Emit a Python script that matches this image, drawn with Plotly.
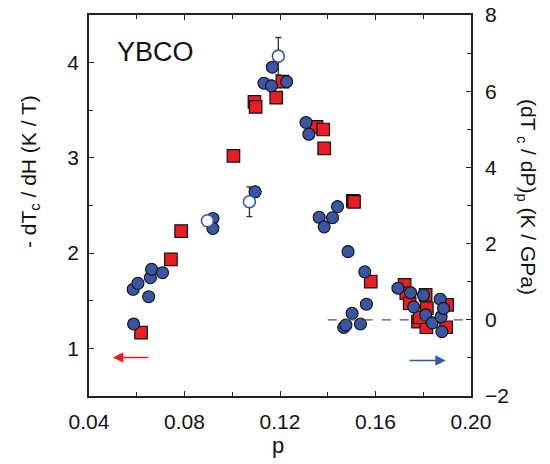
import plotly.graph_objects as go

# Red squares: -dTc/dH (left axis)
sq_p = [0.0618, 0.0743, 0.0786, 0.1005, 0.1093, 0.1098, 0.1184, 0.1210, 0.1353, 0.1381,
        0.1385, 0.1505, 0.1510, 0.1580, 0.1722, 0.1729, 0.1743, 0.1810, 0.1815, 0.1778,
        0.1813, 0.1900, 0.1896, 0.1785]
sq_dtdh = [1.166, 1.935, 2.232, 3.021, 3.587, 3.535, 3.633, 3.800, 3.325, 3.298,
           3.099, 2.550, 2.539, 1.700, 1.666, 1.579, 1.474, 1.561, 1.421, 1.281,
           1.222, 1.456, 1.222, 1.327]

# Blue filled circles: (dTc/dP)p (right axis)
ci_p = [0.0587, 0.0585, 0.0605, 0.0650, 0.0657, 0.0662, 0.0708, 0.0919, 0.0919, 0.1096,
        0.1133, 0.1164, 0.1168, 0.1228, 0.1309, 0.1321, 0.1364, 0.1385, 0.1420, 0.1441,
        0.1485, 0.1555, 0.1562, 0.1502, 0.1467, 0.1476, 0.1537, 0.1694, 0.1747, 0.1801,
        0.1760, 0.1810, 0.1838, 0.1875, 0.1871, 0.1885, 0.1878]
ci_dtdp = [-0.11, 0.80, 0.958, 0.606, 1.105, 1.325, 1.236, 2.66, 2.40, 3.36,
           6.21, 6.14, 6.63, 6.25, 5.18, 4.87, 2.69, 2.44, 2.68, 2.97,
           1.79, 1.26, 0.41, 0.17, -0.20, -0.14, -0.11, 0.83, 0.71, 0.65,
           0.34, 0.13, -0.08, 0.08, 0.54, 0.30, -0.31]

# Blue open circles with error bars (right axis)
op_p = [0.0896, 0.1072, 0.1193]
op_dtdp = [2.60, 3.10, 6.92]
op_err = [0.0, 0.39, 0.49]

x_ticks = [0.04, 0.08, 0.12, 0.16, 0.20]
x_ticktext = ["0.04", "0.08", "0.12", "0.16", "0.20"]
y_ticks = [1, 2, 3, 4]
y2_ticks = [-2, 0, 2, 4, 6, 8]

BLUE = "#3a55a4"
RED = "#ec1c24"
FONT = "Liberation Sans, Arial, sans-serif"
AX = "#222222"

fig = go.Figure()

fig.add_trace(go.Scatter(
    x=sq_p, y=sq_dtdh, mode="markers", yaxis="y",
    marker=dict(symbol="square", size=12.5, color=RED, line=dict(color="#111111", width=1.2)),
    showlegend=False))

fig.add_trace(go.Scatter(
    x=ci_p, y=ci_dtdp, mode="markers", yaxis="y2",
    marker=dict(symbol="circle", size=12, color=BLUE, line=dict(color="#111111", width=1.1)),
    showlegend=False))

fig.add_trace(go.Scatter(
    x=op_p, y=op_dtdp, mode="markers", yaxis="y2",
    error_y=dict(type="data", array=op_err, visible=True, color="#333333", thickness=1.3, width=3),
    marker=dict(symbol="circle", size=12, color="white", line=dict(color=BLUE, width=1.6)),
    showlegend=False))

# dashed zero line on right axis
fig.add_shape(type="line", xref="x", yref="y2", x0=0.14, x1=0.20, y0=0, y1=0,
              line=dict(color="#555555", width=1.3, dash="dash"))

# direction arrows
fig.add_annotation(x=0.0500, y=0.904, ax=0.0655, ay=0.904, xref="x", yref="y",
                   axref="x", ayref="y", showarrow=True, arrowhead=2, arrowsize=1.3,
                   arrowwidth=1.6, arrowcolor=RED, text="")
fig.add_annotation(x=0.1894, y=-1.07, ax=0.1736, ay=-1.07, xref="x", yref="y2",
                   axref="x", ayref="y2", showarrow=True, arrowhead=2, arrowsize=1.3,
                   arrowwidth=1.6, arrowcolor=BLUE, text="")

# texts
fig.add_annotation(x=0.173, y=0.902, xref="paper", yref="paper", text="YBCO",
                   showarrow=False, font=dict(family=FONT, size=27, color="#111111"),
                   xanchor="center", yanchor="middle")
fig.add_annotation(x=0.4948, y=-0.13, xref="paper", yref="paper", text="p",
                   showarrow=False, font=dict(family=FONT, size=22, color="#111111"),
                   xanchor="center", yanchor="middle")
fig.add_annotation(x=-0.155, y=0.59, xref="paper", yref="paper",
                   text="- dT<sub>c</sub> / dH (K / T)", textangle=-90,
                   showarrow=False, font=dict(family=FONT, size=21, color="#111111"),
                   xanchor="center", yanchor="middle")
fig.add_annotation(x=1.147, y=0.522, xref="paper", yref="paper",
                   text="(dT <sub>c</sub> / dP)<sub>p</sub> (K / GPa)", textangle=90,
                   showarrow=False, font=dict(family=FONT, size=21, color="#111111"),
                   xanchor="center", yanchor="middle")

fig.update_layout(
    width=550, height=464,
    margin=dict(l=88.5, r=78.5, t=14.7, b=68, pad=0, autoexpand=False),
    paper_bgcolor="white", plot_bgcolor="white",
    font=dict(family=FONT, size=21, color="#111111"),
    xaxis=dict(range=[0.04, 0.20], tickvals=x_ticks, ticktext=x_ticktext, automargin=False,
               ticks="inside", ticklen=5, tickwidth=1.2, tickcolor=AX, ticklabeloverflow="allow",
               minor=dict(dtick=0.02, tick0=0.04, ticks="inside", ticklen=4, tickwidth=1.2, tickcolor=AX),
               showline=True, linecolor=AX, linewidth=1.5, mirror="ticks",
               showgrid=False, zeroline=False, ticklabelstandoff=6),
    yaxis=dict(range=[0.5, 4.5], tickvals=y_ticks, ticks="inside", ticklen=5, tickwidth=1.2,
               tickcolor=AX, automargin=False, ticklabeloverflow="allow",
               minor=dict(dtick=0.5, tick0=0.5, ticks="inside", ticklen=4, tickwidth=1.2, tickcolor=AX),
               showline=True, linecolor=AX, linewidth=1.5, showgrid=False, zeroline=False,
               ticklabelstandoff=4),
    yaxis2=dict(range=[-2, 8], tickvals=y2_ticks, overlaying="y", side="right", automargin=False,
                ticks="inside", ticklen=5, tickwidth=1.2, tickcolor=AX, ticklabeloverflow="allow",
                minor=dict(dtick=1, tick0=-2, ticks="inside", ticklen=4, tickwidth=1.2, tickcolor=AX),
                showline=True, linecolor=AX, linewidth=1.5, showgrid=False, zeroline=False,
                ticklabelstandoff=8),
)

# remove the browser's default 8px body margin so the figure sits at the page corner
fig.write_html("out.html", config={"displayModeBar": False},
               post_script="document.body.style.margin='0px';")
